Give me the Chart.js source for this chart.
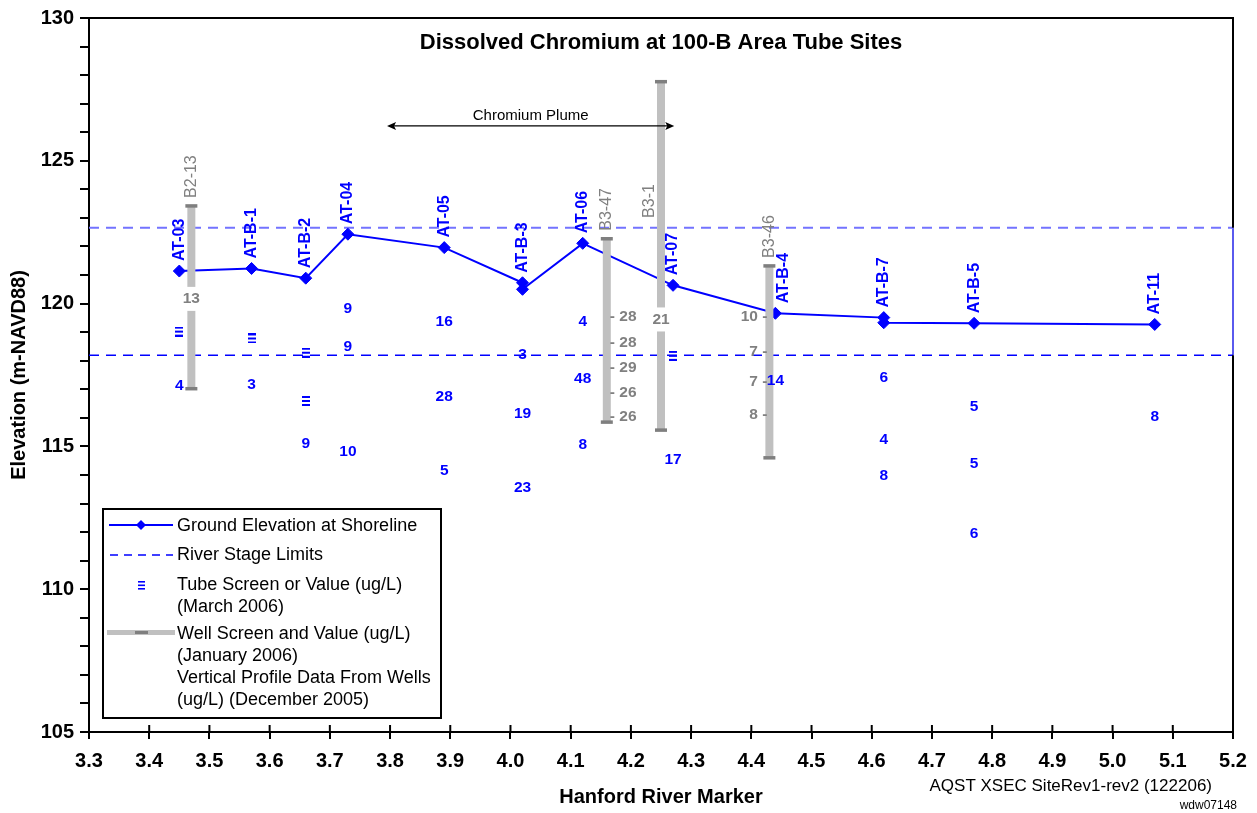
<!DOCTYPE html>
<html>
<head>
<meta charset="utf-8">
<script src="https://cdn.jsdelivr.net/npm/chart.js@4.4.1/dist/chart.umd.min.js"></script>
<style>
  html, body { margin: 0; padding: 0; background: #fff; }
</style>
</head>
<body>
<canvas id="xsec" width="1257" height="813"></canvas>
<script>
// ground elevation at each tube site (m-NAVD88)
var siteNames   = ['AT-03', 'AT-B-1', 'AT-B-2', 'AT-04', 'AT-05', 'AT-B-3', 'AT-06', 'AT-07', 'AT-B-4', 'AT-B-7', 'AT-B-5', 'AT-11'];
var siteMarker  = [3.45, 3.57, 3.66, 3.73, 3.89, 4.02, 4.12, 4.27, 4.44, 4.62, 4.77, 5.07];
var groundElev  = [121.14, 121.23, 120.89, 122.43, 121.96, 120.73, 122.11, 120.64, 119.66, 119.51, 119.31, 119.27];
// second surveyed point at two of the sites
var extraMarker = [4.02, 4.62];
var extraElev   = [120.50, 119.33];

// river stage limits
var riverHigh = 122.66;
var riverLow  = 118.19;

// tube screens (no value) - March 2006
var screenMarker = [3.45, 3.57, 3.66, 3.66, 4.27];
var screenElev   = [119.02, 118.78, 118.28, 116.59, 118.17];

// tube values (ug/L) - March 2006
var tubeMarker = [3.45, 3.57, 3.66, 3.73, 3.73, 3.73, 3.89, 3.89, 3.89, 4.02, 4.02, 4.02, 4.12, 4.12, 4.12, 4.27, 4.44, 4.62, 4.62, 4.62, 4.77, 4.77, 4.77, 5.07];
var tubeElev   = [117.14, 117.15, 115.11, 119.82, 118.49, 114.81, 119.36, 116.73, 114.14, 118.20, 116.15, 113.55, 119.36, 117.37, 115.07, 114.55, 117.31, 117.41, 115.25, 113.96, 116.39, 114.41, 111.96, 116.04];
var tubeValue  = [4, 3, 9, 9, 9, 10, 16, 28, 5, 3, 19, 23, 4, 48, 8, 17, 14, 6, 4, 8, 5, 5, 6, 8];

// wells - screen interval and value (January 2006)
var wellNames   = ['B2-13', 'B3-47', 'B3-1', 'B3-46'];
var wellMarker  = [3.47, 4.16, 4.25, 4.43];
var wellTop     = [123.42, 122.27, 127.77, 121.32];
var wellBottom  = [117.02, 115.85, 115.57, 114.60];
var wellValue   = [13, null, 21, null];
var wellValueAt = [120.20, null, 119.48, null];
var wellNameAt  = [null, null, 123.0, null];

// vertical profile data from wells (December 2005)
var b347Elev  = [119.54, 118.63, 117.76, 116.88, 116.04];
var b347Value = [28, 28, 29, 26, 26];
var b346Elev  = [119.53, 118.32, 117.27, 116.10];
var b346Value = [10, 7, 7, 8];

// chromium plume extent
var plumeFrom = 3.795, plumeTo = 4.272, plumeElev = 126.22;

var FONT = '"Liberation Sans", Arial, sans-serif';
var BLUE = '#0000ff';
var GREY = '#808080';

// ground line, sorted along the river
var groundPts = [];
siteMarker.forEach(function(m, i) { groundPts.push({x: m, y: groundElev[i]}); });
extraMarker.forEach(function(m, i) { groundPts.push({x: m, y: extraElev[i]}); });
groundPts.sort(function(a, b) { return a.x - b.x || b.y - a.y; });

// little "≡" marker for tube screens
var tubeGlyph = document.createElement('canvas');
tubeGlyph.width = 8; tubeGlyph.height = 10;
(function() {
  var g = tubeGlyph.getContext('2d');
  g.fillStyle = BLUE;
  [0, 4, 8].forEach(function(t) { g.fillRect(0, t, 8, 2); });
})();

var wellSets = wellNames.map(function(n, i) {
  return {
    label: n,
    data: [{x: wellMarker[i], y: wellBottom[i]}, {x: wellMarker[i], y: wellTop[i]}],
    showLine: true,
    borderColor: '#c0c0c0',
    borderWidth: 8,
    borderCapStyle: 'butt',
    pointStyle: 'line',
    pointRadius: 6,
    pointHoverRadius: 6,
    pointBorderColor: '#7f7f7f',
    pointBorderWidth: 3.5
  };
});

var otherSets = [
  {
    label: 'Ground Elevation at Shoreline',
    data: groundPts,
    showLine: true,
    borderColor: BLUE,
    borderWidth: 2,
    pointStyle: 'rectRot',
    pointRadius: 6,
    pointHoverRadius: 6,
    pointBackgroundColor: BLUE,
    pointBorderColor: BLUE,
    pointBorderWidth: 1
  },
  {
    label: 'Tube Screen',
    data: screenMarker.map(function(m, i) { return {x: m, y: screenElev[i]}; }),
    showLine: false,
    pointStyle: tubeGlyph,
    pointRadius: 5
  },
  {
    label: 'River Stage High',
    data: [{x: 3.3, y: riverHigh}, {x: 5.2, y: riverHigh}],
    showLine: true,
    borderColor: '#7373ff',
    borderWidth: 2,
    borderDash: [10, 7],
    pointRadius: 0
  },
  {
    label: 'River Stage Low',
    data: [{x: 3.3, y: riverLow}, {x: 5.2, y: riverLow}],
    showLine: true,
    borderColor: BLUE,
    borderWidth: 1.5,
    borderDash: [10, 7],
    pointRadius: 0
  },
  {
    label: 'River Stage Edge',
    data: [{x: 5.2, y: riverHigh}, {x: 5.2, y: riverLow}],
    showLine: true,
    borderColor: '#5a5aee',
    borderWidth: 2,
    pointRadius: 0,
    clip: false
  }
];

function vText(ctx, txt, x, y) {
  // text rotated to read bottom-to-top, starting at (x, y)
  ctx.save();
  ctx.translate(x, y);
  ctx.rotate(-Math.PI / 2);
  ctx.textAlign = 'left';
  ctx.textBaseline = 'middle';
  ctx.fillText(txt, 0, 0);
  ctx.restore();
}

var annotations = {
  id: 'annotations',
  afterDatasetsDraw: function(chart) {
    var ctx = chart.ctx, xs = chart.scales.x, ys = chart.scales.y, area = chart.chartArea;
    ctx.save();

    // frame: top and right edge
    ctx.strokeStyle = '#000';
    ctx.lineWidth = 2;
    ctx.beginPath();
    ctx.moveTo(area.left, area.top); ctx.lineTo(area.right, area.top);
    ctx.lineTo(area.right, ys.getPixelForValue(riverHigh));
    ctx.moveTo(area.right, ys.getPixelForValue(riverLow)); ctx.lineTo(area.right, area.bottom);
    ctx.stroke();

    // x ticks cross the axis
    ctx.lineWidth = 2;
    xs.ticks.forEach(function(t) {
      var px = xs.getPixelForValue(t.value);
      ctx.beginPath(); ctx.moveTo(px, area.bottom - 7); ctx.lineTo(px, area.bottom); ctx.stroke();
    });

    // site names
    ctx.fillStyle = BLUE;
    ctx.font = 'bold 16px ' + FONT;
    siteNames.forEach(function(n, i) {
      var dx = n === 'AT-B-4' ? 8 : 0;
      vText(ctx, n, xs.getPixelForValue(siteMarker[i]) + dx, ys.getPixelForValue(groundElev[i]) - 10);
    });

    // tube values
    ctx.font = 'bold 15.5px ' + FONT;
    ctx.textAlign = 'center';
    ctx.textBaseline = 'middle';
    tubeValue.forEach(function(v, i) {
      ctx.fillText(String(v), xs.getPixelForValue(tubeMarker[i]), ys.getPixelForValue(tubeElev[i]));
    });

    // well names and values
    ctx.fillStyle = GREY;
    ctx.font = '16px ' + FONT;
    wellNames.forEach(function(n, i) {
      var px = xs.getPixelForValue(wellMarker[i]);
      if (wellNameAt[i] === null) {
        vText(ctx, n, px, ys.getPixelForValue(wellTop[i]) - 8);
      } else {
        vText(ctx, n, px - 11, ys.getPixelForValue(wellNameAt[i]));
      }
    });
    ctx.font = 'bold 15.5px ' + FONT;
    wellValue.forEach(function(v, i) {
      if (v === null) return;
      var px = xs.getPixelForValue(wellMarker[i]), py = ys.getPixelForValue(wellValueAt[i]);
      var w = ctx.measureText(String(v)).width;
      ctx.fillStyle = '#fff';
      ctx.fillRect(px - w / 2 - 2, py - 11, w + 4, 24);
      ctx.fillStyle = GREY;
      ctx.textAlign = 'center';
      ctx.fillText(String(v), px, py + 1);
    });

    // vertical profile values
    var x347 = xs.getPixelForValue(wellMarker[1]);
    ctx.textAlign = 'left';
    b347Value.forEach(function(v, i) {
      ctx.fillText('- ' + v, x347 + 3, ys.getPixelForValue(b347Elev[i]));
    });
    var x346 = xs.getPixelForValue(wellMarker[3]);
    ctx.textAlign = 'right';
    b346Value.forEach(function(v, i) {
      ctx.fillText(v + ' -', x346 - 2, ys.getPixelForValue(b346Elev[i]));
    });

    // title
    ctx.fillStyle = '#000';
    ctx.textAlign = 'center';
    ctx.font = 'bold 22px ' + FONT;
    ctx.fillText('Dissolved Chromium at 100-B Area Tube Sites', (area.left + area.right) / 2, 43);

    // chromium plume arrow
    var a = xs.getPixelForValue(plumeFrom), b = xs.getPixelForValue(plumeTo), ay = ys.getPixelForValue(plumeElev);
    ctx.strokeStyle = '#000';
    ctx.lineWidth = 1.2;
    ctx.beginPath(); ctx.moveTo(a + 4, ay); ctx.lineTo(b - 4, ay); ctx.stroke();
    ctx.beginPath();
    ctx.moveTo(a, ay); ctx.lineTo(a + 9, ay - 4); ctx.lineTo(a + 7, ay); ctx.lineTo(a + 9, ay + 4); ctx.closePath();
    ctx.moveTo(b, ay); ctx.lineTo(b - 9, ay - 4); ctx.lineTo(b - 7, ay); ctx.lineTo(b - 9, ay + 4); ctx.closePath();
    ctx.fill();
    ctx.font = '15px ' + FONT;
    ctx.fillText('Chromium Plume', (a + b) / 2, ay - 10);

    // legend
    var L = 103, T = 509, R = 441, B = 718;
    ctx.fillStyle = '#fff';
    ctx.fillRect(L, T, R - L, B - T);
    ctx.strokeStyle = '#000';
    ctx.lineWidth = 2;
    ctx.strokeRect(L, T, R - L, B - T);

    ctx.strokeStyle = BLUE;
    ctx.lineWidth = 2;
    ctx.beginPath(); ctx.moveTo(109, 525); ctx.lineTo(173, 525); ctx.stroke();
    ctx.fillStyle = BLUE;
    ctx.beginPath(); ctx.moveTo(141, 520); ctx.lineTo(146, 525); ctx.lineTo(141, 530); ctx.lineTo(136, 525); ctx.closePath(); ctx.fill();

    ctx.lineWidth = 1.5;
    ctx.setLineDash([8, 6]);
    ctx.beginPath(); ctx.moveTo(110, 555); ctx.lineTo(173, 555); ctx.stroke();
    ctx.setLineDash([]);

    ctx.fillRect(138, 581, 7, 1.6); ctx.fillRect(138, 584.5, 7, 1.6); ctx.fillRect(138, 588, 7, 1.6);

    ctx.fillStyle = '#c0c0c0';
    ctx.fillRect(107, 630, 68, 5);
    ctx.fillStyle = '#7f7f7f';
    ctx.fillRect(135, 631, 13, 3);

    ctx.fillStyle = '#000';
    ctx.font = '18px ' + FONT;
    ctx.textAlign = 'left';
    var lines = [
      ['Ground Elevation at Shoreline', 526],
      ['River Stage Limits', 555],
      ['Tube Screen or Value (ug/L)', 585],
      ['(March 2006)', 607],
      ['Well Screen and Value (ug/L)', 634],
      ['(January 2006)', 656],
      ['Vertical Profile Data From Wells', 678],
      ['(ug/L) (December 2005)', 700]
    ];
    lines.forEach(function(l) { ctx.fillText(l[0], 177, l[1]); });

    // axis titles and notes
    ctx.font = 'bold 20px ' + FONT;
    ctx.textAlign = 'center';
    ctx.fillText('Hanford River Marker', (area.left + area.right) / 2, 797);
    ctx.save();
    ctx.translate(19, (area.top + area.bottom) / 2);
    ctx.rotate(-Math.PI / 2);
    ctx.fillText('Elevation (m-NAVD88)', 0, 0);
    ctx.restore();

    ctx.textAlign = 'right';
    ctx.font = '17px ' + FONT;
    ctx.fillText('AQST XSEC SiteRev1-rev2 (122206)', 1212, 786);
    ctx.font = '12px ' + FONT;
    ctx.fillText('wdw07148', 1237, 806);

    ctx.restore();
  }
};

var chart = new Chart(document.getElementById('xsec'), {
  type: 'scatter',
  data: { datasets: wellSets.concat(otherSets) },
  options: {
    responsive: false,
    animation: false,
    devicePixelRatio: 1,
    layout: { padding: { top: 17, right: 24, left: 0, bottom: 0 } },
    plugins: {
      legend: { display: false },
      tooltip: { enabled: false }
    },
    scales: {
      x: {
        type: 'linear',
        min: 3.3,
        max: 5.2,
        afterFit: function(s) { s.height = 81; },
        border: { color: '#000', width: 2 },
        grid: { drawOnChartArea: false, tickLength: 7, color: '#000', lineWidth: 2 },
        ticks: {
          stepSize: 0.1,
          autoSkip: false,
          maxRotation: 0,
          padding: 10,
          color: '#000',
          font: { family: FONT, size: 20, weight: 'bold' },
          callback: function(v) { return Number(v).toFixed(1); }
        }
      },
      y: {
        min: 105,
        max: 130,
        afterFit: function(s) { s.width = 89; },
        border: { color: '#000', width: 2 },
        grid: { drawOnChartArea: false, tickLength: 9, color: '#000', lineWidth: 2 },
        ticks: {
          stepSize: 1,
          autoSkip: false,
          padding: 6,
          color: '#000',
          font: { family: FONT, size: 20, weight: 'bold' },
          callback: function(v) { return v % 5 === 0 ? v : ''; }
        }
      }
    }
  },
  plugins: [annotations]
});
</script>
</body>
</html>
